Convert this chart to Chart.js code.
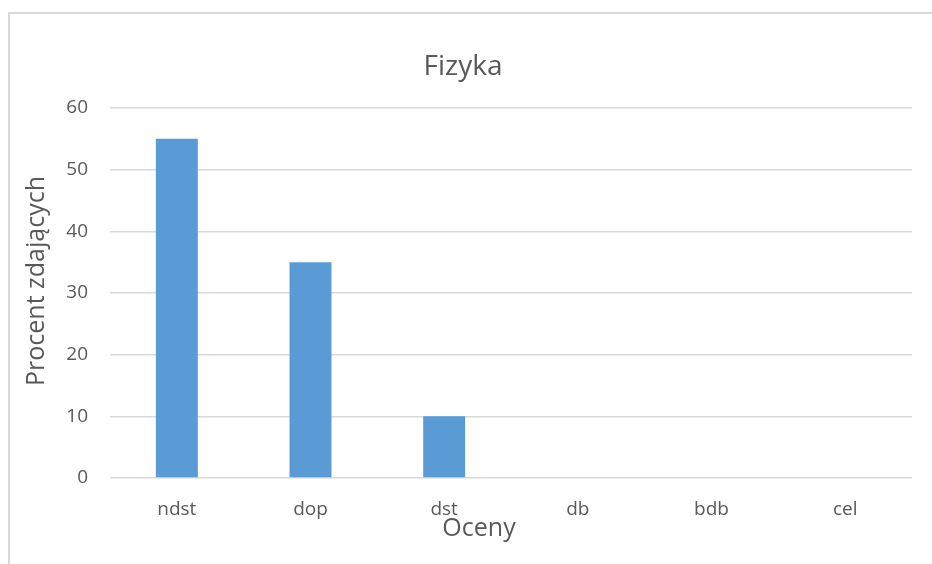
<!DOCTYPE html>
<html>
<head>
<meta charset="utf-8">
<script src="https://cdn.jsdelivr.net/npm/chart.js@4/dist/chart.umd.min.js"></script>
<style>
  html, body { margin: 0; padding: 0; background: #fff; }
  #wrap { position: relative; width: 932px; height: 564px; overflow: hidden; }
  #frame { position: absolute; left: 8px; top: 12px; width: 960px; height: 600px; border: 2px solid #d9d9d9; box-sizing: border-box; }
  canvas { position: absolute; left: 0; top: 0; }
</style>
</head>
<body>
<div id="wrap">
  <div id="frame"></div>
  <canvas id="c" width="932" height="564"></canvas>
</div>
<script>
const categories = ["ndst", "dop", "dst", "db", "bdb", "cel"];
const values = [55, 35, 10, 0, 0, 0];
const yTicks = [0, 10, 20, 30, 40, 50, 60];
const chartTitle = "Fizyka";
const xTitle = "Oceny";
const yTitle = "Procent zdających";

const FONT = "'Open Sans', 'Noto Sans', sans-serif";
const GREY = "#595959";

// Draws chart title and axis titles at Excel-like positions relative to the chart area
const titlesPlugin = {
  id: "excelTitles",
  afterDraw(chart) {
    const ctx = chart.ctx;
    const a = chart.chartArea;
    ctx.save();
    ctx.fillStyle = GREY;
    ctx.textAlign = "center";
    ctx.textBaseline = "middle";
    ctx.font = "28px " + FONT;
    ctx.fillText(chartTitle, a.left + 353, a.top - 41);
    ctx.font = "25px " + FONT;
    ctx.fillText(xTitle, a.left + 369, a.bottom + 51);
    ctx.translate(a.left - 73, a.top + 173);
    ctx.rotate(-Math.PI / 2);
    ctx.fillText(yTitle, 0, 0);
    ctx.restore();
  }
};

new Chart(document.getElementById("c"), {
  type: "bar",
  data: {
    labels: categories,
    datasets: [{
      data: values,
      backgroundColor: "#5B9BD5",
      borderWidth: 0,
      barPercentage: 0.314,
      categoryPercentage: 1.0
    }]
  },
  options: {
    responsive: false,
    animation: false,
    layout: { padding: { left: 0, right: 20, top: 108, bottom: 0 } },
    plugins: {
      legend: { display: false },
      tooltip: { enabled: false },
      title: { display: false }
    },
    scales: {
      x: {
        grid: { display: false, drawTicks: false },
        border: { display: false },
        ticks: { color: GREY, font: { family: FONT, size: 19 }, padding: 20 },
        afterFit: s => { s.height = 86; }
      },
      y: {
        min: 0,
        max: 60,
        afterBuildTicks: s => { s.ticks = yTicks.map(v => ({ value: v })); },
        grid: { color: "#d9d9d9", lineWidth: 1.5, drawTicks: false },
        border: { display: false },
        ticks: { color: GREY, font: { family: FONT, size: 19 }, padding: 22 },
        afterFit: s => { s.width = 110; }
      }
    }
  },
  plugins: [titlesPlugin]
});
</script>
</body>
</html>
